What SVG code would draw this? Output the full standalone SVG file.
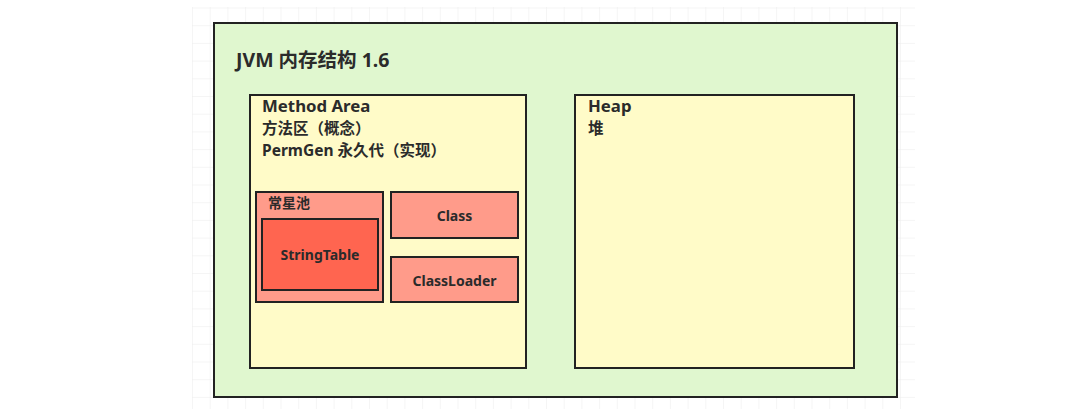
<svg xmlns="http://www.w3.org/2000/svg" width="1077" height="409" viewBox="0 0 1077 409">
<defs>
<pattern id="grid" x="192" y="7.5" width="17.7" height="17.7" patternUnits="userSpaceOnUse">
<path d="M0 0H17.7M0 0V17.7" fill="none" stroke="#ececec" stroke-width="1"/>
</pattern>
</defs>
<style>
.box{stroke:#222;stroke-width:2}
.outer{fill:#e0f7cf}
.area{fill:#fffbc8}
.salmon{fill:#ff9b8a}
.red{fill:#ff6550}
text{font-family:"Noto Sans","Noto Sans CJK SC",sans-serif;font-weight:bold;fill:#2b2b2b}
.t18{font-size:19.5px}
.t16{font-size:16.8px}
.t14{font-size:15.5px}
.t13{font-size:14px}
</style>
<rect x="0" y="0" width="1077" height="409" fill="#fff"/>
<rect x="192" y="7" width="723" height="402" fill="url(#grid)"/>
<g id="jvm">
<rect class="box outer" x="214" y="23" width="683" height="374"/>
<text class="t18" x="236" y="67">JVM 内存结构 1.6</text>
</g>
<g id="method-area">
<rect class="box area" x="250" y="95" width="276" height="273"/>
<text class="t16" x="262" y="112">Method Area</text>
<text class="t14" x="262" y="134">方法区（概念）</text>
<text class="t14" x="262" y="156">PermGen 永久代（实现）</text>
</g>
<g id="heap">
<rect class="box area" x="575" y="95" width="279" height="273"/>
<text class="t16" x="588" y="112">Heap</text>
<text class="t14" x="588" y="134">堆</text>
</g>
<g id="constant-pool">
<rect class="box salmon" x="256" y="192" width="127" height="110"/>
<text class="t13" x="268" y="208">常星池</text>
</g>
<g id="string-table">
<rect class="box red" x="262" y="219" width="116" height="71"/>
<text class="t13" x="320" y="260" text-anchor="middle">StringTable</text>
</g>
<g id="class">
<rect class="box salmon" x="391" y="192" width="127" height="46"/>
<text class="t13" x="454.5" y="221" text-anchor="middle">Class</text>
</g>
<g id="classloader">
<rect class="box salmon" x="391" y="257" width="127" height="45"/>
<text class="t13" x="454.5" y="286" text-anchor="middle">ClassLoader</text>
</g>
<g id="connectors"></g>
</svg>
